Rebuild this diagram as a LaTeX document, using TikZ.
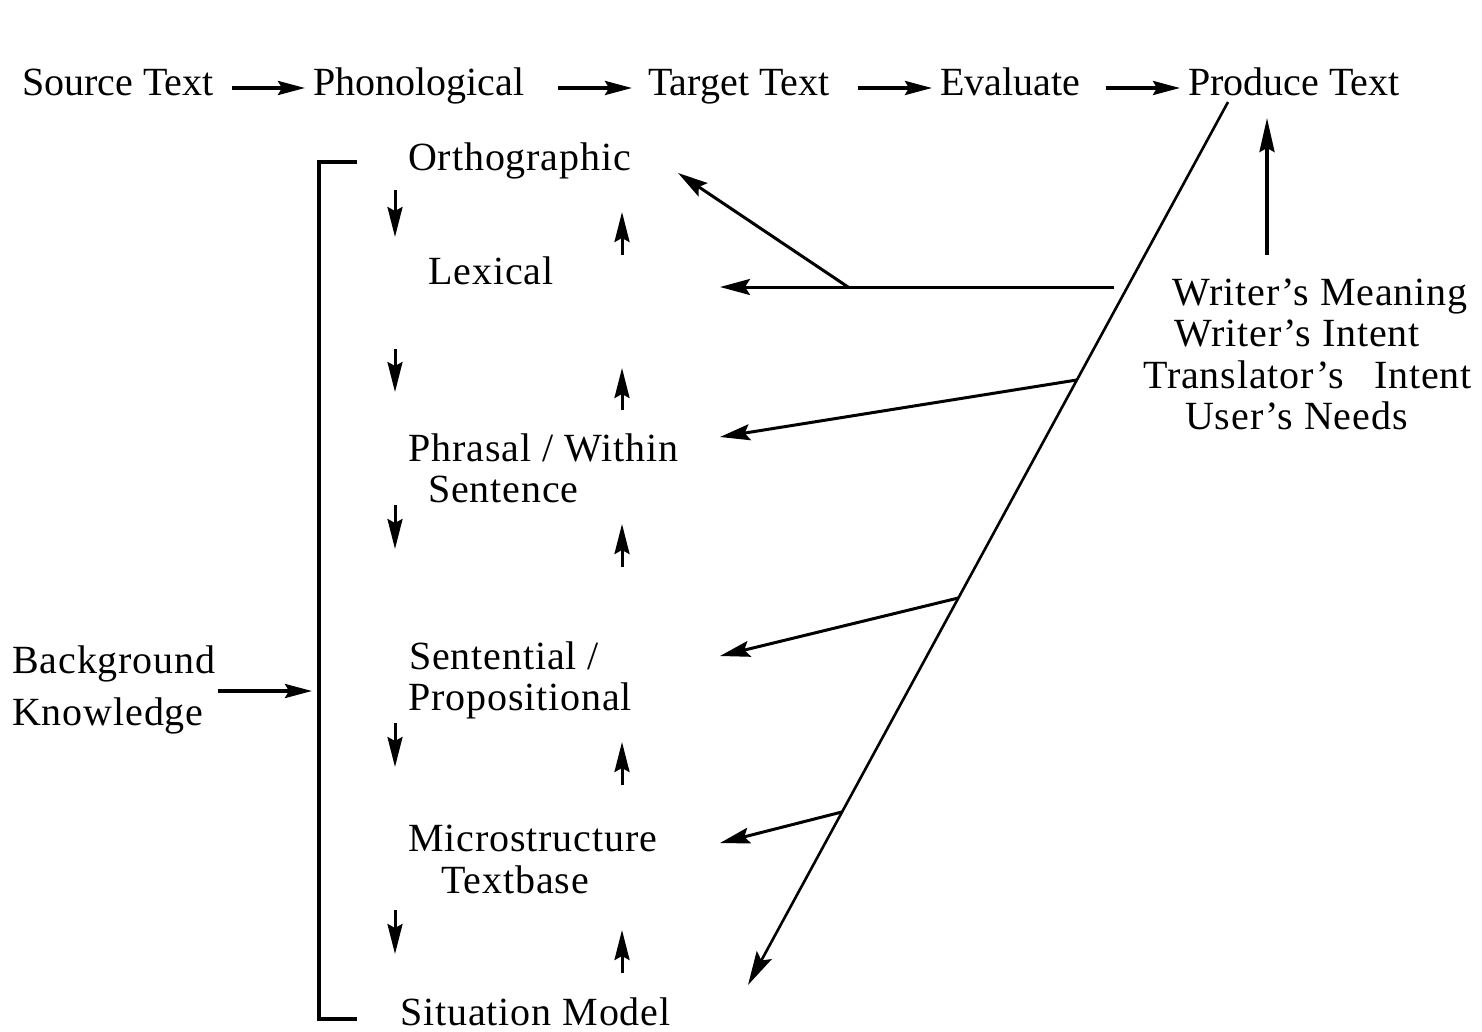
\documentclass[tikz,border=0pt]{standalone}
\usepackage{fontspec}
\setmainfont{Liberation Serif}
\usetikzlibrary{arrows.meta}
\newfontfamily\bodyfont[LetterSpace=2.2]{Liberation Serif}
\tikzset{
  toplbl/.style={font=\fontsize{40}{48}\selectfont, inner sep=0pt, anchor=base west},
  lbl/.style={font=\bodyfont\fontsize{40}{48}\selectfont, inner sep=0pt, anchor=base west},
  toparrow/.style={line width=3.4pt, -{Stealth[length=27pt,width=14pt,inset=4pt]}},
  levarrow/.style={line width=3pt, -{Stealth[length=30pt,width=15pt,inset=4pt]}},
  ptrarrow/.style={line width=3pt, -{Stealth[length=30pt,width=16pt,inset=5pt]}},
  bracket/.style={line width=4pt},
  diag/.style={line width=2.6pt}
}
\begin{document}
\begin{tikzpicture}[x=1pt,y=-1pt]
\useasboundingbox (0,0) rectangle (1482,1032);
% top row
\node[toplbl] (src)  at (22,96)   {Source Text};
\node[toplbl] (phon) at (313,96)  {Phonological};
\node[toplbl] (tgt)  at (648,96)  {Target Text};
\node[toplbl] (eval) at (940,96)  {Evaluate};
\node[toplbl] (prod) at (1188,96) {Produce Text};
\draw[toparrow] ([shift={(-81,-8)}]phon.base west) -- ([shift={(-8,-8)}]phon.base west);
\draw[toparrow] ([shift={(-90,-8)}]tgt.base west) -- ([shift={(-16,-8)}]tgt.base west);
\draw[toparrow] ([shift={(-82,-8)}]eval.base west) -- ([shift={(-8,-8)}]eval.base west);
\draw[toparrow] ([shift={(-82,-8)}]prod.base west) -- ([shift={(-8,-8)}]prod.base west);
% levels
\node[lbl] (ortho) at (408,171)  {Orthographic};
\node[lbl] (lex)   at (428,284)  {Lexical};
\node[lbl] (phr)   at (408,461)  {Phrasal / Within};
\node[lbl] (sent)  at (428,502)  {Sentence};
\node[lbl] (sentl) at (409,669)  {Sentential /};
\node[lbl] (prop)  at (408,710)  {Propositional};
\node[lbl] (micro) at (408,851)  {Microstructure};
\node[lbl] (tbase) at (441,893)  {Textbase};
\node[lbl] (sit)   at (400,1025) {Situation Model};
% background
\node[lbl] (bg)   at (12,673) {Background};
\node[lbl] (know) at (12,725) {Knowledge};
% writer texts
\node[lbl] (wm) at (1172,305) {Writer’s Meaning};
\node[lbl] (wi) at (1174,346) {Writer’s Intent};
\node[lbl] (ti) at (1143,388) {Translator’s\hspace{0.75em}Intent};
\node[lbl] (un) at (1185,429) {User’s Needs};
% bracket
\coordinate (brT) at (319,162);
\coordinate (brB) at (319,1019);
\draw[bracket] ([xshift=38]brT) -- (brT) -- (brB) -- ([xshift=38]brB);
\coordinate (bgS) at (218,691);
\coordinate (bgE) at (312,691);
\draw[toparrow] (bgS) -- (bgE);
% down arrows
\foreach \a/\b [count=\i] in {190/237, 349/392, 505/549, 723/767, 910/954}{
  \coordinate (dn\i a) at (395,\a);
  \coordinate (dn\i b) at (395,\b);
  \draw[levarrow] (dn\i a) -- (dn\i b);
}
% up arrows
\foreach \a/\b [count=\i] in {255/212, 410/368, 567/524, 785/742, 973/930}{
  \coordinate (up\i a) at (622,\a);
  \coordinate (up\i b) at (622,\b);
  \draw[levarrow] (up\i a) -- (up\i b);
}
% diagonal
\coordinate (dgT) at (1228,102);
\coordinate (dgB) at (748,985);
\draw[diag, -{Stealth[length=34pt,width=17pt,inset=6pt]}] (dgT) -- (dgB);
\path (dgT) -- (dgB) coordinate[pos=0.3148] (p1) coordinate[pos=0.5617] (p2) coordinate[pos=0.804] (p3);
% lexical line and branch
\coordinate (lxS) at (1114,287);
\coordinate (lxE) at (720,287);
\coordinate (lxB) at (848,287);
\coordinate (orE) at (678,173);
\draw[ptrarrow] (lxS) -- (lxE);
\draw[ptrarrow] (lxB) -- (orE);
% pointers from diagonal
\coordinate (phE) at (720,437);
\coordinate (seE) at (720,656);
\coordinate (miE) at (720,843);
\draw[ptrarrow] (p1) -- (phE);
\draw[ptrarrow] (p2) -- (seE);
\draw[ptrarrow] (p3) -- (miE);
% writer's arrow up
\coordinate (wA) at (1267,255);
\coordinate (wB) at (1267,118);
\draw[line width=3.4pt, -{Stealth[length=34pt,width=15pt,inset=4pt]}] (wA) -- (wB);
\end{tikzpicture}
\end{document}
